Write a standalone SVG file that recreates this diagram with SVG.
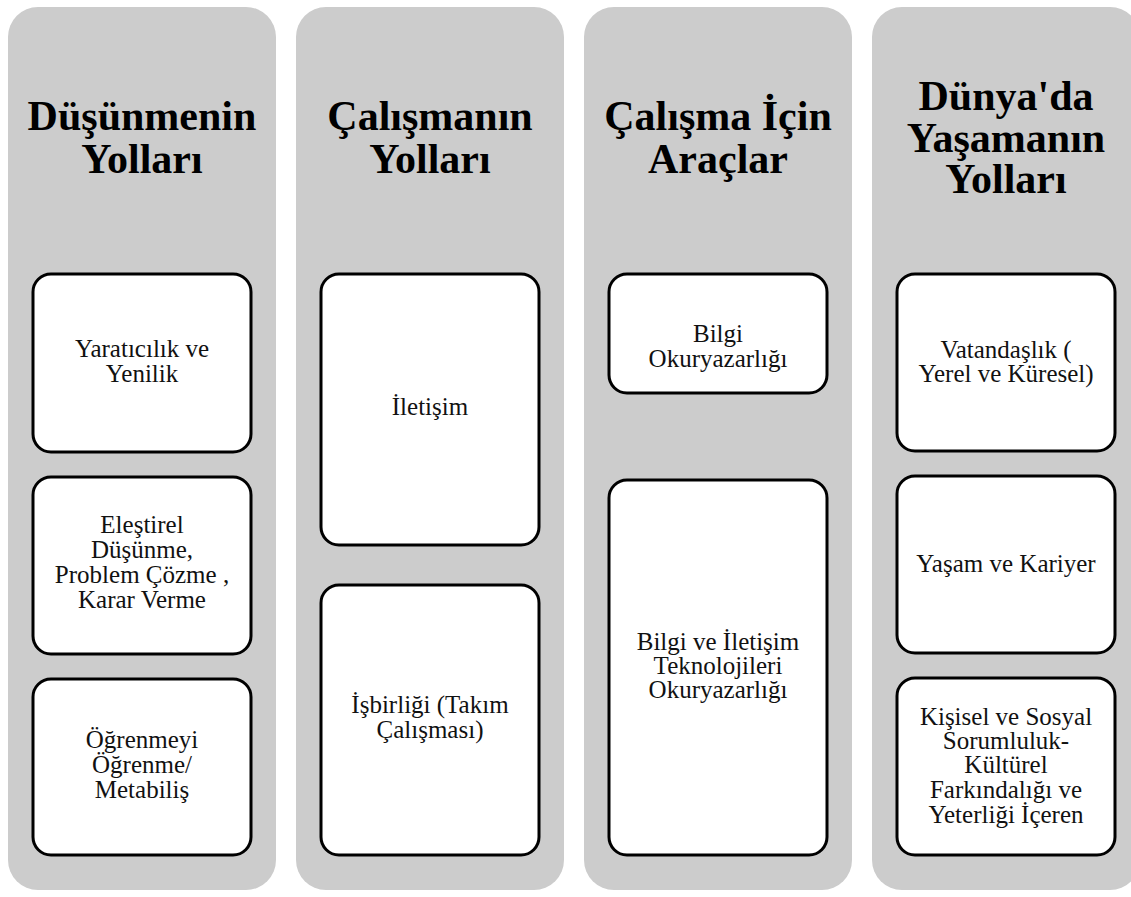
<svg xmlns="http://www.w3.org/2000/svg" width="1131" height="897" viewBox="0 0 1131 897">
<style>
.col{fill:#cccccc;}
.box{fill:#ffffff;stroke:#000000;stroke-width:3;}
.title{font-family:"Liberation Serif","Times New Roman",serif;font-weight:bold;font-size:42px;fill:#000;text-anchor:middle;}
.lbl{font-family:"Liberation Serif","Times New Roman",serif;font-size:25px;fill:#111;text-anchor:middle;}
</style>
<rect width="1131" height="897" fill="#ffffff"/>
<g id="col1">
<rect class="col" x="8" y="7" width="268" height="883" rx="30" ry="30"/>
<text class="title" x="142"><tspan x="142" y="130">Düşünmenin</tspan><tspan x="142" y="173">Yolları</tspan></text>
</g>
<g id="col2">
<rect class="col" x="296" y="7" width="268" height="883" rx="30" ry="30"/>
<text class="title" x="430"><tspan x="430" y="130">Çalışmanın</tspan><tspan x="430" y="173">Yolları</tspan></text>
</g>
<g id="col3">
<rect class="col" x="584" y="7" width="268" height="883" rx="30" ry="30"/>
<text class="title" x="718"><tspan x="718" y="130">Çalışma İçin</tspan><tspan x="718" y="173">Araçlar</tspan></text>
</g>
<g id="col4">
<rect class="col" x="872" y="7" width="268" height="883" rx="30" ry="30"/>
<text class="title" x="1006"><tspan x="1006" y="110">Dünya'da</tspan><tspan x="1006" y="152">Yaşamanın</tspan><tspan x="1006" y="193">Yolları</tspan></text>
</g>
<g id="n1">
<rect class="box" x="33" y="274" width="218" height="178" rx="18" ry="18"/>
<text class="lbl"><tspan x="142" y="357">Yaratıcılık ve</tspan><tspan x="142" y="382">Yenilik</tspan></text>
</g>
<g id="n2">
<rect class="box" x="33" y="477" width="218" height="177" rx="18" ry="18"/>
<text class="lbl"><tspan x="142" y="533">Eleştirel</tspan><tspan x="142" y="558">Düşünme,</tspan><tspan x="142" y="583">Problem Çözme ,</tspan><tspan x="142" y="608">Karar Verme</tspan></text>
</g>
<g id="n3">
<rect class="box" x="33" y="679" width="218" height="176" rx="18" ry="18"/>
<text class="lbl"><tspan x="142" y="748">Öğrenmeyi</tspan><tspan x="142" y="773">Öğrenme/</tspan><tspan x="142" y="798">Metabiliş</tspan></text>
</g>
<g id="n4">
<rect class="box" x="321" y="274" width="218" height="271" rx="18" ry="18"/>
<text class="lbl"><tspan x="430" y="415">İletişim</tspan></text>
</g>
<g id="n5">
<rect class="box" x="321" y="585" width="218" height="270" rx="18" ry="18"/>
<text class="lbl"><tspan x="430" y="713">İşbirliği (Takım</tspan><tspan x="430" y="738">Çalışması)</tspan></text>
</g>
<g id="n6">
<rect class="box" x="609" y="274" width="218" height="119" rx="18" ry="18"/>
<text class="lbl"><tspan x="718" y="342">Bilgi</tspan><tspan x="718" y="367">Okuryazarlığı</tspan></text>
</g>
<g id="n7">
<rect class="box" x="609" y="480" width="218" height="375" rx="18" ry="18"/>
<text class="lbl"><tspan x="718" y="650">Bilgi ve İletişim</tspan><tspan x="718" y="674">Teknolojileri</tspan><tspan x="718" y="698">Okuryazarlığı</tspan></text>
</g>
<g id="n8">
<rect class="box" x="897" y="274" width="218" height="177" rx="18" ry="18"/>
<text class="lbl"><tspan x="1006" y="358">Vatandaşlık (</tspan><tspan x="1006" y="382">Yerel ve Küresel)</tspan></text>
</g>
<g id="n9">
<rect class="box" x="897" y="476" width="218" height="177" rx="18" ry="18"/>
<text class="lbl"><tspan x="1006" y="572">Yaşam ve Kariyer</tspan></text>
</g>
<g id="n10">
<rect class="box" x="897" y="678" width="218" height="177" rx="18" ry="18"/>
<text class="lbl"><tspan x="1006" y="725">Kişisel ve Sosyal</tspan><tspan x="1006" y="749">Sorumluluk-</tspan><tspan x="1006" y="773">Kültürel</tspan><tspan x="1006" y="798">Farkındalığı ve</tspan><tspan x="1006" y="823">Yeterliği İçeren</tspan></text>
</g>
<g id="connectors"></g>
</svg>
